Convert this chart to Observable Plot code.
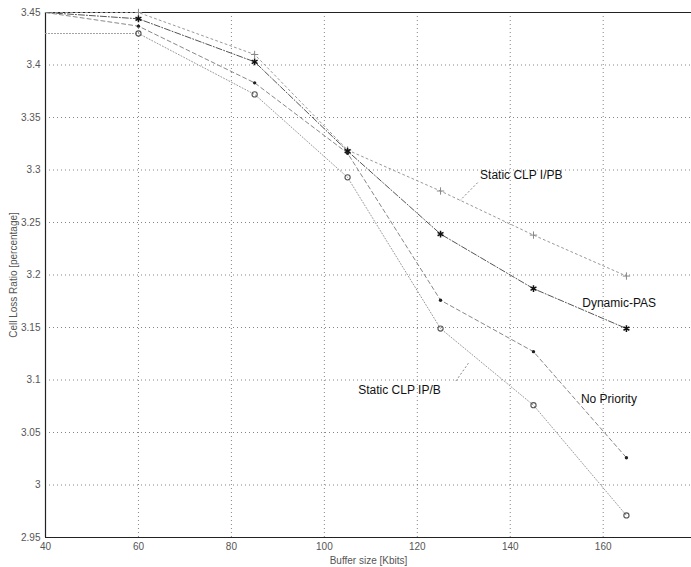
<!DOCTYPE html>
<html>
<head>
<meta charset="utf-8">
<script src="https://cdn.jsdelivr.net/npm/d3@7"></script>
<script src="https://cdn.jsdelivr.net/npm/@observablehq/plot@0.6"></script>
<style>
  html, body { margin: 0; padding: 0; background: #fff; }
  #chart { width: 691px; height: 567px; overflow: hidden; }
</style>
</head>
<body>
<div id="chart"></div>
<script>
// ---- data ----
const bufferSize = [40, 60, 85, 105, 125, 145, 165];
const staticClpIPB = [3.45, 3.45, 3.41, 3.319, 3.28, 3.238, 3.199];   // Static CLP I/PB
const dynamicPAS   = [3.45, 3.444, 3.403, 3.318, 3.239, 3.187, 3.149]; // Dynamic-PAS
const noPriority   = [3.45, 3.437, 3.383, 3.316, 3.176, 3.127, 3.026]; // No Priority
const staticClpIPb = [3.43, 3.43, 3.372, 3.293, 3.149, 3.076, 2.971];  // Static CLP IP/B

const xTicks = [40, 60, 80, 100, 120, 140, 160];
const yTicks = [2.95, 3, 3.05, 3.1, 3.15, 3.2, 3.25, 3.3, 3.35, 3.4, 3.45];
const yTickLabels = ["2.95", "3", "3.05", "3.1", "3.15", "3.2", "3.25", "3.3", "3.35", "3.4", "3.45"];

const labelNames = ["Static CLP I/PB", "Dynamic-PAS", "Static CLP IP/B", "No Priority"];
const labelX = [133.5, 155.5, 107.3, 155.2];
const labelY = [3.295, 3.173, 3.09, 3.082];
const leaderX1 = [133, 128.3];
const leaderY1 = [3.288, 3.099];
const leaderX2 = [129.2, 131];
const leaderY2 = [3.271, 3.116];

// ---- tables built from the arrays ----
const toRows = vals => bufferSize.map((x, i) => ({x, y: vals[i]}));
const sIPB = toRows(staticClpIPB);
const dPAS = toRows(dynamicPAS);
const nPri = toRows(noPriority);
const sIPb = toRows(staticClpIPb);
const labels = labelNames.map((t, i) => ({t, x: labelX[i], y: labelY[i]}));
const leaders = leaderX1.map((x1, i) => ({x1, y1: leaderY1[i], x2: leaderX2[i], y2: leaderY2[i]}));

const chart = Plot.plot({
  width: 691,
  height: 567,
  marginLeft: 45,
  marginRight: 0,
  marginTop: 12,
  marginBottom: 30,
  style: {fontFamily: "'Liberation Sans', Arial, sans-serif", fontSize: "10px", color: "#555", background: "#fff"},
  x: {domain: [40, 179], ticks: xTicks, tickSize: 0, tickPadding: 5, label: "Buffer size [Kbits]", labelAnchor: "center", labelArrow: "none", labelOffset: 26},
  y: {domain: [2.95, 3.45], ticks: yTicks, tickSize: 0, tickPadding: 5, tickFormat: (d) => yTickLabels[yTicks.indexOf(d)] ?? d, label: "Cell Loss Ratio [percentage]", labelAnchor: "center", labelArrow: "none", labelOffset: 36},
  marks: [
    Plot.gridX(xTicks.slice(1), {stroke: "#666", strokeOpacity: 0.8, strokeDasharray: "1,3"}),
    Plot.gridY(yTicks.slice(1, -1), {stroke: "#666", strokeOpacity: 0.8, strokeDasharray: "1,3"}),
    Plot.ruleX([40], {stroke: "#222", strokeWidth: 1.2}),
    Plot.ruleY([2.95, 3.45], {stroke: "#222", strokeWidth: 1.2}),
    Plot.line(sIPB, {x: "x", y: "y", stroke: "#999", strokeWidth: 1, strokeDasharray: "2,3"}),
    Plot.line(dPAS, {x: "x", y: "y", stroke: "#555", strokeWidth: 1, strokeDasharray: "6,2,1,2"}),
    Plot.line(nPri, {x: "x", y: "y", stroke: "#888", strokeWidth: 1, strokeDasharray: "4,3"}),
    Plot.line(sIPb, {x: "x", y: "y", stroke: "#999", strokeWidth: 1, strokeDasharray: "1,2"}),
    Plot.dot(sIPB.slice(1), {x: "x", y: "y", symbol: "plus", r: 2.5, stroke: "#888", strokeWidth: 1}),
    Plot.dot(dPAS.slice(1), {x: "x", y: "y", symbol: "asterisk", r: 3.2, stroke: "#111", strokeWidth: 1.5}),
    Plot.dot(nPri.slice(1), {x: "x", y: "y", r: 1.7, fill: "#222", stroke: "none"}),
    Plot.dot(sIPb.slice(1), {x: "x", y: "y", symbol: "circle", r: 2.6, stroke: "#555", fill: "none", strokeWidth: 1.1}),
    Plot.link(leaders, {x1: "x1", y1: "y1", x2: "x2", y2: "y2", stroke: "#888", strokeDasharray: "2,2"}),
    Plot.text(labels, {x: "x", y: "y", text: "t", textAnchor: "start", fill: "#111", fontSize: 12})
  ]
});
document.getElementById("chart").appendChild(chart);
</script>
</body>
</html>
